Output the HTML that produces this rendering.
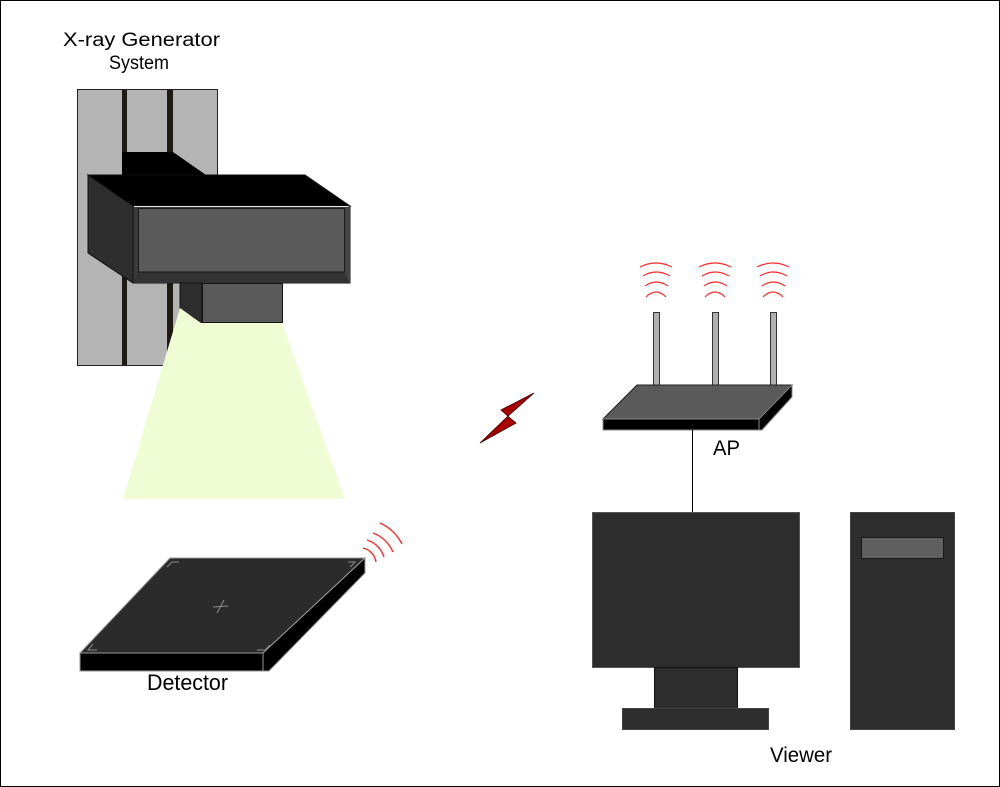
<!DOCTYPE html>
<html>
<head>
<meta charset="utf-8">
<style>
  html,body{margin:0;padding:0;background:#fff;}
  svg{display:block;}
  text{font-family:"Liberation Sans", Arial, sans-serif; fill:#000;}
</style>
</head>
<body>
<svg width="1000" height="787" viewBox="0 0 1000 787" xmlns="http://www.w3.org/2000/svg">
  <rect x="0" y="0" width="1000" height="787" fill="#fff"/>
  <rect x="0.5" y="0.5" width="999" height="786" fill="none" stroke="#000" stroke-width="1"/>

  <!-- Title -->
  <text x="63" y="46" font-size="19" textLength="157" lengthAdjust="spacingAndGlyphs">X-ray Generator</text>
  <text x="109" y="69" font-size="19" textLength="60" lengthAdjust="spacingAndGlyphs">System</text>

  <!-- Wall panel -->
  <rect x="77.5" y="89.5" width="140" height="276" fill="#b4b4b4" stroke="#222" stroke-width="1"/>
  <rect x="122" y="90" width="5" height="275" fill="#1e1a14"/>
  <rect x="167" y="90" width="6" height="275" fill="#1e1a14"/>

  <!-- Back block -->
  <polygon points="122,152 173,152 206,175 122,175" fill="#000"/>

  <!-- Main box -->
  <polygon points="88,175 305,175 350,206 133,206" fill="#000" stroke="#111" stroke-width="1"/>
  <polygon points="88,175 133,206 133,283 88,253" fill="#2e2e2e" stroke="#111" stroke-width="1"/>
  <rect x="133" y="206" width="217" height="77" fill="#3a3a3a" stroke="#111" stroke-width="1"/>
  <line x1="134" y1="206.5" x2="349" y2="206.5" stroke="#e8e8e8" stroke-width="1"/>
  <polygon points="133,283 138,272 344,272 350,283" fill="#333"/>
  <polygon points="344,208 350,206 350,283 344,272" fill="#444"/>
  <rect x="138.5" y="208.5" width="206" height="63.5" fill="#5a5a5a" stroke="#1a1a1a" stroke-width="1"/>

  <!-- Collimator -->
  <polygon points="180,283 202,283 202,323 180,309" fill="#2e2e2e" stroke="#111" stroke-width="1"/>
  <rect x="202.5" y="283.5" width="80" height="39" fill="#5a5a5a" stroke="#111" stroke-width="1"/>

  <!-- Beam -->
  <polygon points="180,308 201,323 282,323 345,499 123,499" fill="#f0fcd4"/>

  <!-- Lightning -->
  <polygon points="534,393 501,410 510,418 516,423 480,443 507,417" fill="#a80000" stroke="#3a0000" stroke-width="0.8" stroke-linejoin="miter"/>

  <!-- Detector -->
  <polygon points="170,558 365,558 263,653 80,653" fill="#2b2b2b" stroke="#9a9a9a" stroke-width="1"/>
  <rect x="80" y="653" width="183" height="18" fill="#000" stroke="#9a9a9a" stroke-width="1"/>
  <polygon points="263,653 365,558 365,573 269,671 263,671" fill="#000" stroke="#9a9a9a" stroke-width="1"/>
  <g stroke="#8a8a8a" stroke-width="1" fill="none">
    <polyline points="179,562 172,562 167,567"/>
    <polyline points="348,562 355,562 350,567"/>
    <polyline points="93,644 88,650 97,650"/>
    <polyline points="257,650 265,650 270,645"/>
    <line x1="213" y1="607" x2="228" y2="606"/>
    <line x1="224" y1="600" x2="217" y2="613"/>
  </g>
  <!-- Detector waves -->
  <g stroke="#ff2a2a" stroke-width="1.4" fill="none">
    <path d="M363,548 A17,17 0 0 1 376,562"/>
    <path d="M367,540 A26,26 0 0 1 384,557"/>
    <path d="M373,533 A35,35 0 0 1 393,552"/>
    <path d="M380,523 A46,46 0 0 1 402,544"/>
  </g>
  <text x="147" y="690" font-size="22" textLength="81" lengthAdjust="spacingAndGlyphs">Detector</text>

  <!-- AP waves -->
  <g stroke="#ff2a2a" stroke-width="1.2" fill="none">
    <path d="M640,267 Q656,259 672,267"/>
    <path d="M643,276 Q656,268 670,276"/>
    <path d="M645,286 Q656,278 668,286"/>
    <path d="M646,297 Q656,287 666,297"/>
    <path d="M699,267 Q715,259 731,267"/>
    <path d="M702,276 Q715,268 729,276"/>
    <path d="M704,286 Q715,278 727,286"/>
    <path d="M705,297 Q715,287 725,297"/>
    <path d="M757,267 Q773,259 789,267"/>
    <path d="M760,276 Q773,268 787,276"/>
    <path d="M762,286 Q773,278 785,286"/>
    <path d="M763,297 Q773,287 783,297"/>
  </g>
  <!-- Antennas -->
  <rect x="653.5" y="312.5" width="6" height="73" fill="#b0b0b0" stroke="#333" stroke-width="1"/>
  <rect x="712.5" y="312.5" width="6" height="73" fill="#b0b0b0" stroke="#333" stroke-width="1"/>
  <rect x="770.5" y="312.5" width="6" height="73" fill="#b0b0b0" stroke="#333" stroke-width="1"/>
  <!-- Router -->
  <polygon points="637,385 792,385 759,419 603,419" fill="#5a5a5a" stroke="#222" stroke-width="1"/>
  <rect x="603" y="419" width="156" height="11" fill="#000" stroke="#888" stroke-width="1"/>
  <polygon points="759,419 792,385 792,397 762,430 759,430" fill="#000" stroke="#888" stroke-width="1"/>
  <line x1="692.5" y1="430" x2="692.5" y2="512" stroke="#000" stroke-width="1"/>
  <text x="713" y="455" font-size="21" textLength="27" lengthAdjust="spacingAndGlyphs">AP</text>

  <!-- Monitor -->
  <rect x="592.5" y="512.5" width="207" height="155" fill="#2d2d2d" stroke="#555" stroke-width="1"/>
  <rect x="654.5" y="667.5" width="83" height="41" fill="#2d2d2d" stroke="#111" stroke-width="1"/>
  <rect x="622.5" y="708.5" width="146" height="21" fill="#2d2d2d" stroke="#444" stroke-width="1"/>
  <!-- Tower -->
  <rect x="850.5" y="512.5" width="104" height="217" fill="#2d2d2d" stroke="#444" stroke-width="1"/>
  <rect x="861.5" y="537.5" width="82" height="21" fill="#5f5f5f" stroke="#1a1a1a" stroke-width="1"/>

  <text x="770" y="762" font-size="21" textLength="62" lengthAdjust="spacingAndGlyphs">Viewer</text>
</svg>
</body>
</html>
